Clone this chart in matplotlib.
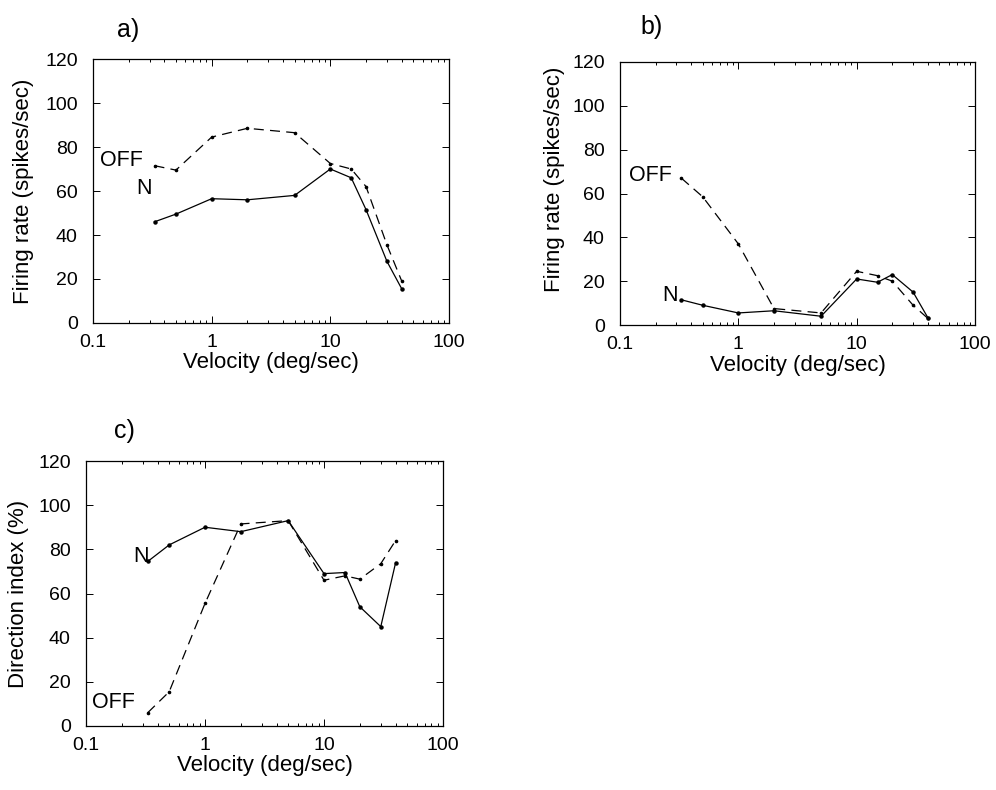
import matplotlib.pyplot as plt
from matplotlib.ticker import FixedLocator, NullFormatter, LogLocator

plt.rcParams['font.family'] = ['Liberation Sans', 'DejaVu Sans']

# velocities (deg/sec)
velocity = [0.33, 0.5, 1, 2, 5, 10, 15, 20, 30, 40]

# a) firing rate, preferred direction
a_n = [46, 49.5, 56.5, 56, 58, 70, 66, 51.5, 28, 15.5]
a_off = [71.5, 69.5, 84.5, 88.5, 86.5, 72.5, 70, 62, 35.5, 19]

# b) firing rate, null direction
b_n = [11.5, 9, 5.5, 6.5, 4, 21, 19.5, 23, 15, 3.3]
b_off = [67, 58.5, 37, 7.5, 5.5, 24.5, 22.5, 20, 9, 3]

# c) direction index
c_n = [74.5, 82, 90, 88, 93, 69, 69.5, 54, 45, 74]
c_off = [6, 15.5, 55.5, 91.5, 93, 66, 68, 66.5, 73.5, 84]

yticks = [0, 20, 40, 60, 80, 100, 120]
xticks = [0.1, 1, 10, 100]
xticklabels = ['0.1', '1', '10', '100']

W, H = 996, 790
fig = plt.figure(figsize=(W / 100, H / 100), dpi=100)


def make_ax(left, top, right, bottom):
    return fig.add_axes([left / W, 1 - bottom / H, (right - left) / W, (bottom - top) / H])


def style(ax, ylabel, label_x, label_y=0.5):
    ax.set_xscale('log')
    ax.set_xlim(0.1, 100)
    ax.set_ylim(0, 120)
    ax.xaxis.set_major_locator(FixedLocator(xticks))
    ax.set_xticklabels(xticklabels)
    ax.xaxis.set_minor_locator(LogLocator(base=10, subs=range(2, 10)))
    ax.xaxis.set_minor_formatter(NullFormatter())
    ax.set_yticks(yticks)
    ax.tick_params(which='both', direction='in', top=True, right=True,
                   labelsize=14, width=0.7)
    ax.tick_params(axis='x', which='major', pad=8)
    ax.tick_params(axis='y', which='major', pad=11)
    ax.tick_params(which='major', length=5)
    ax.tick_params(which='minor', length=2.5)
    for s in ax.spines.values():
        s.set_linewidth(0.9)
    ax.set_xlabel('Velocity (deg/sec)', fontsize=16, labelpad=1)
    ax.set_ylabel(ylabel, fontsize=16)
    ax.yaxis.set_label_coords(label_x / 357, label_y)


def draw(ax, n, off):
    ax.plot(velocity, n, '-', color='black', lw=0.9, marker='o', ms=2.2)
    ax.plot(velocity, off, '--', color='black', lw=0.9, marker='o', ms=1.6,
            dashes=(8, 5))


ax_a = make_ax(93, 59, 449, 323)
draw(ax_a, a_n, a_off)
style(ax_a, 'Firing rate (spikes/sec)', -59)
ax_a.text(0.14, 0.617, 'OFF', transform=ax_a.transAxes, ha='right', va='center', fontsize=15.5)
ax_a.text(0.166, 0.508, 'N', transform=ax_a.transAxes, ha='right', va='center', fontsize=15.5)
fig.text(128 / W, 1 - 30 / H, 'a)', ha='center', va='center', fontsize=18)

ax_b = make_ax(620, 62, 975, 325)
draw(ax_b, b_n, b_off)
style(ax_b, 'Firing rate (spikes/sec)', -55, label_y=0.555)
ax_b.text(0.146, 0.57, 'OFF', transform=ax_b.transAxes, ha='right', va='center', fontsize=15.5)
ax_b.text(0.164, 0.114, 'N', transform=ax_b.transAxes, ha='right', va='center', fontsize=15.5)
fig.text(652 / W, 1 - 27 / H, 'b)', ha='center', va='center', fontsize=18)

ax_c = make_ax(86, 461, 443, 726)
draw(ax_c, c_n, c_off)
style(ax_c, 'Direction index (%)', -57)
ax_c.text(0.175, 0.64, 'N', transform=ax_c.transAxes, ha='right', va='center', fontsize=15.5)
ax_c.text(0.137, 0.087, 'OFF', transform=ax_c.transAxes, ha='right', va='center', fontsize=15.5)
fig.text(124 / W, 1 - 431 / H, 'c)', ha='center', va='center', fontsize=18)

plt.savefig('out.png', dpi=100)
